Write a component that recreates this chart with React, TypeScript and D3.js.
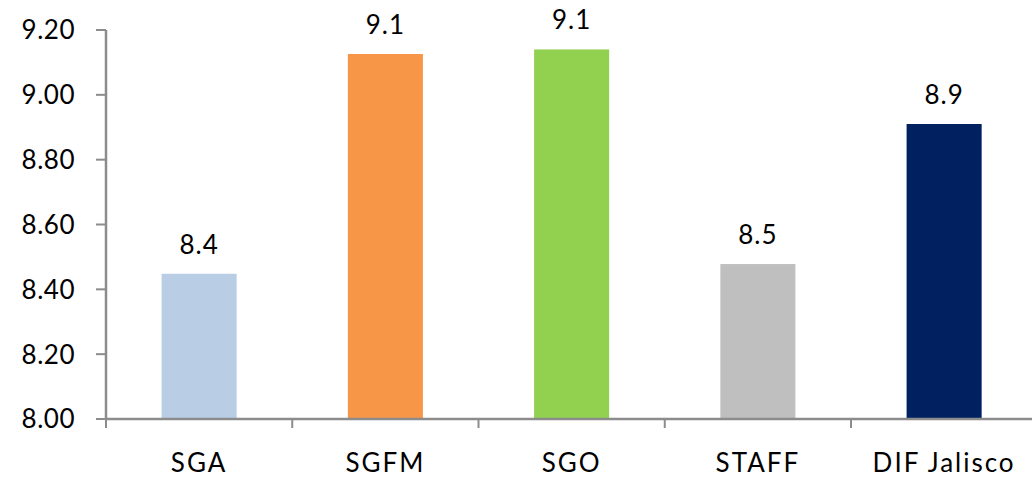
import React from "react";
import * as d3 from "d3";

const categories = ["SGA", "SGFM", "SGO", "STAFF", "DIF Jalisco"];
const values = [8.448, 9.126, 9.14, 8.478, 8.91];
const colors = ["#B9CDE5", "#F79646", "#92D050", "#BFBFBF", "#002060"];
const yTicks = [8.0, 8.2, 8.4, 8.6, 8.8, 9.0, 9.2];

const W = 1032;
const H = 479;
const FONT = "Lato, 'DejaVu Sans', sans-serif";

export default function App() {
  const left = 106;
  const step = 186.25;
  const x = d3
    .scaleBand<string>()
    .domain(categories)
    .range([left, left + step * categories.length])
    .paddingInner(0.597)
    .paddingOuter(0.2985);
  const y = d3.scaleLinear().domain([8, 9.2]).range([419, 30]);
  const fmtTick = d3.format(".2f");
  const fmtVal = d3.format(".1f");
  const axisColor = "#8c8c8c";
  const base = y(8);
  const boundaries = d3.range(categories.length + 1).map((i) => left + i * x.step());

  return (
    <div style={{ position: "absolute", left: 0, top: 0 }}>
      <svg width={W} height={H} style={{ display: "block", background: "#fff" }}>
        {categories.map((c, i) => (
          <rect
            key={c}
            x={x(c)!}
            y={y(values[i])}
            width={x.bandwidth()}
            height={base - y(values[i])}
            fill={colors[i]}
          />
        ))}
        {categories.map((c, i) => (
          <text
            key={c + "-v"}
            x={x(c)! + x.bandwidth() / 2}
            y={y(values[i]) - 20}
            textAnchor="middle"
            fontFamily={FONT}
            fontSize={26}
            letterSpacing={1}
            fill="#000"
          >
            {fmtVal(values[i])}
          </text>
        ))}
        <line x1={left} x2={left} y1={y(9.2)} y2={base} stroke={axisColor} strokeWidth={2.5} />
        {yTicks.map((t) => (
          <g key={t}>
            <line x1={left - 10} x2={left} y1={y(t)} y2={y(t)} stroke={axisColor} strokeWidth={2} />
            <text
              x={75}
              y={y(t)}
              dy="0.36em"
              textAnchor="end"
              fontFamily={FONT}
              fontSize={26}
              letterSpacing={0.5}
              fill="#000"
            >
              {fmtTick(t)}
            </text>
          </g>
        ))}
        <line x1={left} x2={W} y1={base} y2={base} stroke={axisColor} strokeWidth={2.5} />
        {boundaries.map((b, i) => (
          <line key={i} x1={b} x2={b} y1={base} y2={base + 9} stroke={axisColor} strokeWidth={2} />
        ))}
        {categories.map((c) => (
          <text
            key={c + "-l"}
            x={x(c)! + x.bandwidth() / 2}
            y={472}
            textAnchor="middle"
            fontFamily={FONT}
            fontSize={26}
            letterSpacing={2}
            fill="#000"
          >
            {c}
          </text>
        ))}
      </svg>
    </div>
  );
}
